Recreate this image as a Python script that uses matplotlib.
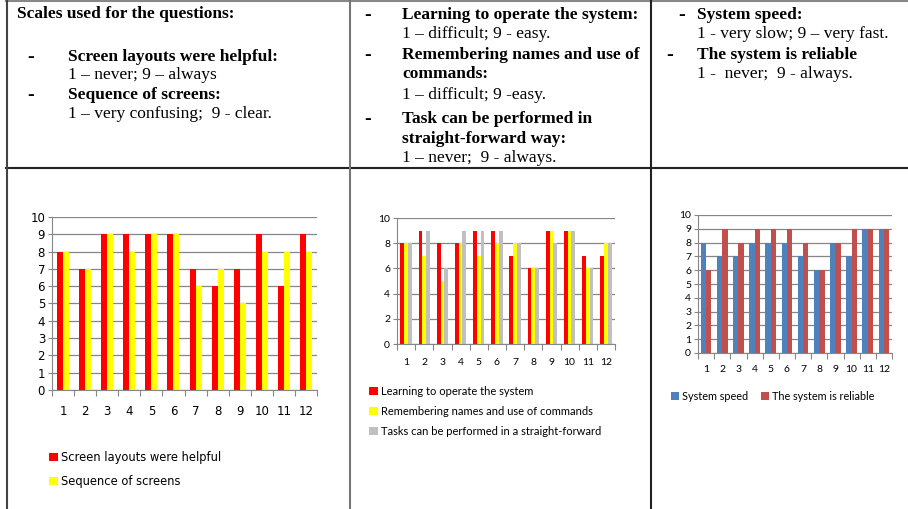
import matplotlib
matplotlib.use("Agg")
import matplotlib.pyplot as plt
import numpy as np
from matplotlib.lines import Line2D

W, H = 908, 509

# data
questions = list(range(1, 13))

screens_helpful = [8, 7, 9, 9, 9, 9, 7, 6, 7, 9, 6, 9]
screens_sequence = [8, 7, 9, 8, 9, 9, 6, 7, 5, 8, 8, 8]

learning = [8, 9, 8, 8, 9, 9, 7, 6, 9, 9, 7, 7]
remembering = [8, 7, 5, 8, 7, 8, 8, 6, 9, 9, 6, 8]
straightforward = [8, 9, 6, 9, 9, 9, 8, 6, 8, 9, 6, 8]

speed = [8, 7, 7, 8, 8, 8, 7, 6, 8, 7, 9, 9]
reliable = [6, 9, 8, 9, 9, 9, 8, 6, 8, 9, 9, 9]


def fx(x):
    return x / W


def fy(y):
    return 1 - y / H


fig = plt.figure(figsize=(W / 100, H / 100), dpi=100)

# table grid
def hline(y, x0, x1, c="#222222", lw=1.5):
    fig.add_artist(Line2D([fx(x0), fx(x1)], [fy(y), fy(y)], color=c, lw=lw))


def vline(x, y0, y1, c="#444444", lw=1.5):
    fig.add_artist(Line2D([fx(x), fx(x)], [fy(y0), fy(y1)], color=c, lw=lw))


hline(0.5, 6, 908, c="#888888")
hline(168, 6, 908)
vline(6.5, 0, 509)
vline(350, 0, 509, c="#777777")
vline(651, 0, 509, c="#222222")

serif = "Liberation Serif"
fs = 12.5


def txt(x, y, s, bold=False):
    fig.text(fx(x), fy(y), s, family=serif, fontsize=fs,
             fontweight="bold" if bold else "normal", va="center", ha="left")


def dash(x, y):
    fig.text(fx(x), fy(y), "-", family=serif, fontsize=fs + 2,
             fontweight="bold", va="center", ha="left")


# cell 1
txt(17, 14, "Scales used for the questions:", True)
dash(27, 57)
txt(68, 57, "Screen layouts were helpful:", True)
txt(68, 75, "1 \u2013 never; 9 \u2013 always")
dash(27, 95)
txt(68, 95, "Sequence of screens:", True)
txt(68, 114, "1 \u2013 very confusing;  9 - clear.")

# cell 2
dash(364, 15)
txt(402, 15, "Learning to operate the system:", True)
txt(402, 34, "1 \u2013 difficult; 9 - easy.")
dash(364, 55)
txt(402, 55, "Remembering names and use of", True)
txt(402, 74, "commands:", True)
txt(402, 95, "1 \u2013 difficult; 9 -easy.")
dash(364, 119)
txt(402, 119, "Task can be performed in", True)
txt(402, 139, "straight-forward way:", True)
txt(402, 158, "1 \u2013 never;  9 - always.")

# cell 3
dash(678, 15)
txt(697, 15, "System speed:", True)
txt(697, 34, "1 - very slow; 9 \u2013 very fast.")
dash(666, 55)
txt(697, 55, "The system is reliable", True)
txt(697, 74, "1 -  never;  9 - always.")


def make_axes(x0, x1, ytop, ybot):
    return fig.add_axes([fx(x0), fy(ybot), fx(x1 - x0), (ybot - ytop) / H])


def style(ax, yticks, fsize, family, pad):
    n = len(questions)
    ax.set_xlim(0.5, n + 0.5)
    ax.set_ylim(0, 10)
    ax.set_yticks(yticks)
    ax.tick_params(axis="y", labelsize=fsize, length=3, color="#868686", pad=2)
    for lab in ax.get_yticklabels():
        lab.set_family(family)
    ax.set_xticks(np.arange(0.5, n + 1, 1))
    ax.set_xticklabels([])
    ax.tick_params(axis="x", which="major", length=4, color="#868686")
    ax.set_xticks(questions, minor=True)
    ax.set_xticklabels([str(q) for q in questions], minor=True, fontsize=fsize, family=family)
    ax.tick_params(axis="x", which="minor", length=0, pad=pad)
    ax.grid(axis="y", color="#868686", lw=0.9)
    ax.set_axisbelow(True)
    for s in ("top", "right"):
        ax.spines[s].set_visible(False)
    for s in ("left", "bottom"):
        ax.spines[s].set_color("#868686")


x = np.array(questions)

# chart 1
ax1 = make_axes(52, 317, 217, 390)
w1 = 0.27
b1 = ax1.bar(x - w1 / 2, screens_helpful, w1, color="#FF0000")
b2 = ax1.bar(x + w1 / 2, screens_sequence, w1, color="#FFFF00")
style(ax1, range(0, 11), 8.5, "DejaVu Sans", 11)
fig.legend([b1, b2], ["Screen layouts were helpful", "Sequence of screens"],
           loc="upper left", bbox_to_anchor=(fx(49), fy(451)), frameon=False,
           prop={"family": "DejaVu Sans", "size": 8.3},
           handlelength=0.75, handleheight=0.75, handletextpad=0.25,
           labelspacing=0.95, borderpad=0, borderaxespad=0)

# chart 2
ax2 = make_axes(397, 615, 218, 344)
w2 = 0.21
c1 = ax2.bar(x - w2, learning, w2, color="#FF0000")
c2 = ax2.bar(x, remembering, w2, color="#FFFF00")
c3 = ax2.bar(x + w2, straightforward, w2, color="#C0C0C0")
style(ax2, range(0, 11, 2), 7.5, "Lato", 10)
fig.legend([c1, c2, c3], ["Learning to operate the system",
                          "Remembering names and use of commands",
                          "Tasks can be performed in a straight-forward"],
           loc="upper left", bbox_to_anchor=(fx(369), fy(386)), frameon=False,
           prop={"family": "Lato", "size": 8},
           handlelength=0.8, handleheight=0.8, handletextpad=0.3,
           labelspacing=0.8, borderpad=0, borderaxespad=0)

# chart 3
ax3 = make_axes(698, 892, 215, 353)
w3 = 0.33
d1 = ax3.bar(x - w3 / 2, speed, w3, color="#4F81BD")
d2 = ax3.bar(x + w3 / 2, reliable, w3, color="#C0504D")
style(ax3, range(0, 11), 7.5, "Lato", 9)
fig.legend([d1, d2], ["System speed", "The system is reliable"],
           loc="upper left", bbox_to_anchor=(fx(671), fy(391)), frameon=False,
           prop={"family": "Lato", "size": 7.8}, ncol=2, columnspacing=1.2,
           handlelength=0.7, handleheight=0.7, handletextpad=0.3,
           borderpad=0, borderaxespad=0)

fig.savefig("out.png", dpi=100)
